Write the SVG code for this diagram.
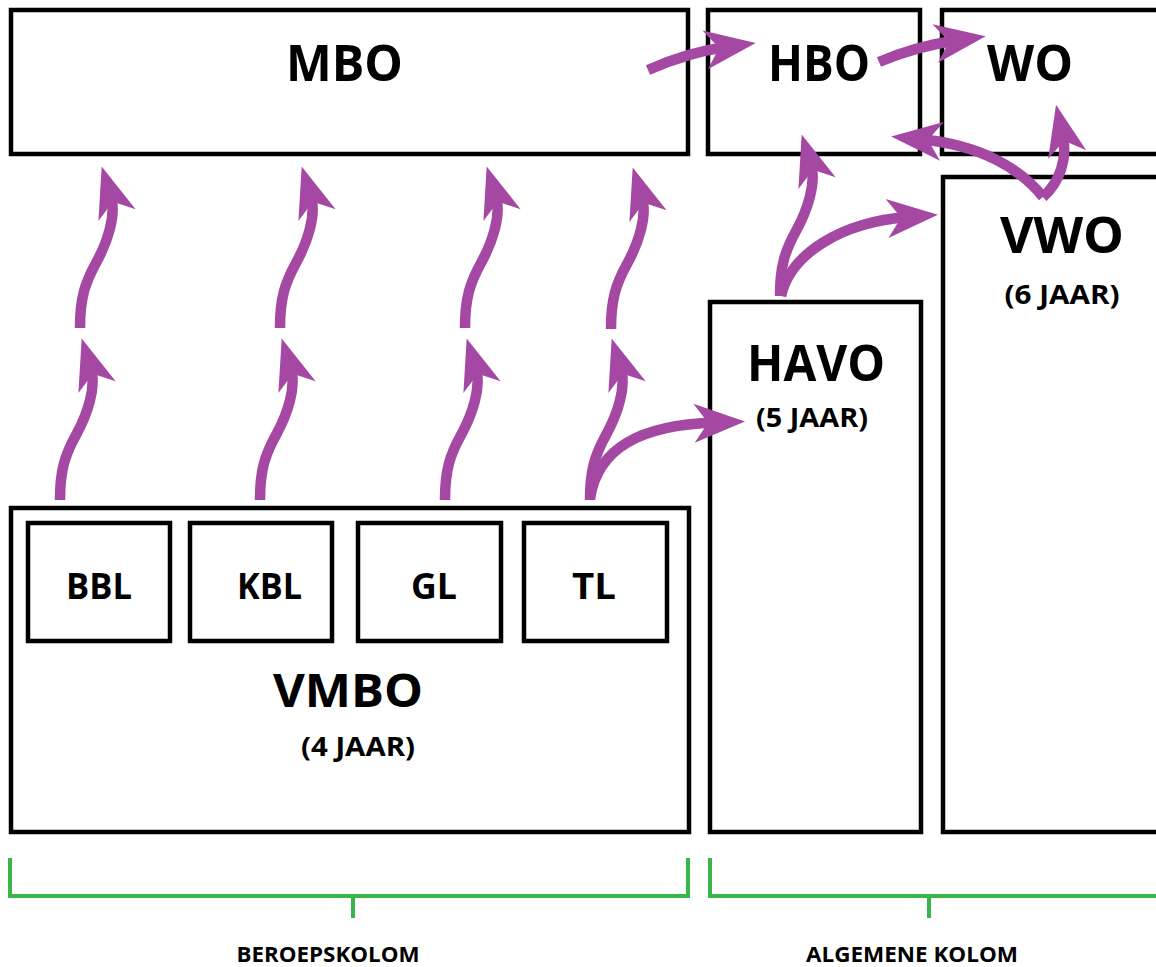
<svg xmlns="http://www.w3.org/2000/svg" xmlns:xlink="http://www.w3.org/1999/xlink" width="1156" height="967" viewBox="0 0 1156 967">
<style>
.box{fill:#fff;stroke:#000;stroke-width:4.5}
.t{font-family:"Open Sans","Liberation Sans",sans-serif;font-weight:700;fill:#000;text-anchor:middle}
.big{font-size:51px}
.mid{font-size:36px}
.sub{font-size:26px}
.lab{font-size:22px}
.arr{fill:none;stroke:#a548a3;stroke-width:10.5;stroke-linecap:butt}
.br{fill:none;stroke:#39b54a;stroke-width:4}
</style>
<defs>
<marker id="ah" markerUnits="userSpaceOnUse" markerWidth="60" markerHeight="44" refX="-30" refY="0" orient="auto" overflow="visible">
<path d="M0,0 L-51,-19.5 L-37,0 L-51,19.5 Z" fill="#a548a3"/>
</marker>
<path id="wave" class="arr" d="M0,0 C0,-30 5,-45 16,-65 C27,-85 37,-113 30.7,-133" marker-end="url(#ah)"/>
</defs>
<rect width="1156" height="967" fill="#fff"/>

<g id="MBO"><rect class="box" x="11" y="10" width="677" height="144"/><text class="t big" x="344.5" y="81" textLength="117" lengthAdjust="spacingAndGlyphs">MBO</text></g>
<g id="HBO"><rect class="box" x="708" y="10" width="212" height="144"/><text class="t big" x="819" y="81" textLength="102" lengthAdjust="spacingAndGlyphs">HBO</text></g>
<g id="WO"><rect class="box" x="942" y="10" width="240" height="144"/><text class="t big" x="1030" y="81" textLength="86" lengthAdjust="spacingAndGlyphs">WO</text></g>
<g id="VWO"><rect class="box" x="943" y="177" width="240" height="655"/><text class="t big" x="1062" y="253" textLength="124" lengthAdjust="spacingAndGlyphs">VWO</text><text class="t sub" x="1062" y="304" textLength="115" lengthAdjust="spacingAndGlyphs">(6 JAAR)</text></g>
<g id="HAVO"><rect class="box" x="710" y="302" width="211" height="530"/><text class="t big" x="816" y="381" textLength="138" lengthAdjust="spacingAndGlyphs">HAVO</text><text class="t sub" x="812" y="427" textLength="112" lengthAdjust="spacingAndGlyphs">(5 JAAR)</text></g>
<g id="VMBO"><rect class="box" x="11" y="508" width="678" height="324"/><text class="t" style="font-size:46px" x="348" y="707" textLength="150" lengthAdjust="spacingAndGlyphs">VMBO</text><text class="t sub" x="358" y="756" textLength="114" lengthAdjust="spacingAndGlyphs">(4 JAAR)</text></g>
<g id="BBL"><rect class="box" x="28" y="523" width="142" height="118"/><text class="t mid" x="99" y="599" textLength="66" lengthAdjust="spacingAndGlyphs">BBL</text></g>
<g id="KBL"><rect class="box" x="190" y="523" width="142" height="118"/><text class="t mid" x="269.5" y="599" textLength="65" lengthAdjust="spacingAndGlyphs">KBL</text></g>
<g id="GL"><rect class="box" x="358" y="523" width="143" height="118"/><text class="t mid" x="434" y="599" textLength="46" lengthAdjust="spacingAndGlyphs">GL</text></g>
<g id="TL"><rect class="box" x="524" y="523" width="143" height="118"/><text class="t mid" x="594" y="599" textLength="44" lengthAdjust="spacingAndGlyphs">TL</text></g>

<g id="connectors">
<use href="#wave" transform="translate(60,500)"/>
<use href="#wave" transform="translate(260,500)"/>
<use href="#wave" transform="translate(445,500)"/>
<use href="#wave" transform="translate(590,500)"/>
<use href="#wave" transform="translate(80,328)"/>
<use href="#wave" transform="translate(280,328)"/>
<use href="#wave" transform="translate(465,328)"/>
<use href="#wave" transform="translate(611,329)"/>
<use href="#wave" transform="translate(780,296)"/>
<path id="tl-havo" class="arr" d="M590,498 C598,448 640,425 715,422.5" marker-end="url(#ah)"/>
<path id="havo-vwo" class="arr" d="M781,296 C790,255 840,222 908,217" marker-end="url(#ah)"/>
<path id="mbo-hbo" class="arr" d="M648,70 C675,58 700,50.6 726,47" marker-end="url(#ah)"/>
<path id="hbo-wo" class="arr" d="M879,62 C900,53 925,45 956,40.5" marker-end="url(#ah)"/>
<path id="vwo-hbo" class="arr" d="M1043,197 C1020,168 980,145 921,139.3" marker-end="url(#ah)"/>
<path id="vwo-wo" class="arr" d="M1043,197 C1060,182 1068,158 1062.6,134" marker-end="url(#ah)"/>
</g>

<g id="beroepskolom"><path class="br" d="M10,858 V896 H688 V858 M353,896 V918"/><text class="t lab" x="328" y="962" textLength="183" lengthAdjust="spacingAndGlyphs">BEROEPSKOLOM</text></g>
<g id="algemene-kolom"><path class="br" d="M710,858 V896 H1160 M929,896 V918"/><text class="t lab" x="912" y="962" textLength="212" lengthAdjust="spacingAndGlyphs">ALGEMENE KOLOM</text></g>
</svg>
